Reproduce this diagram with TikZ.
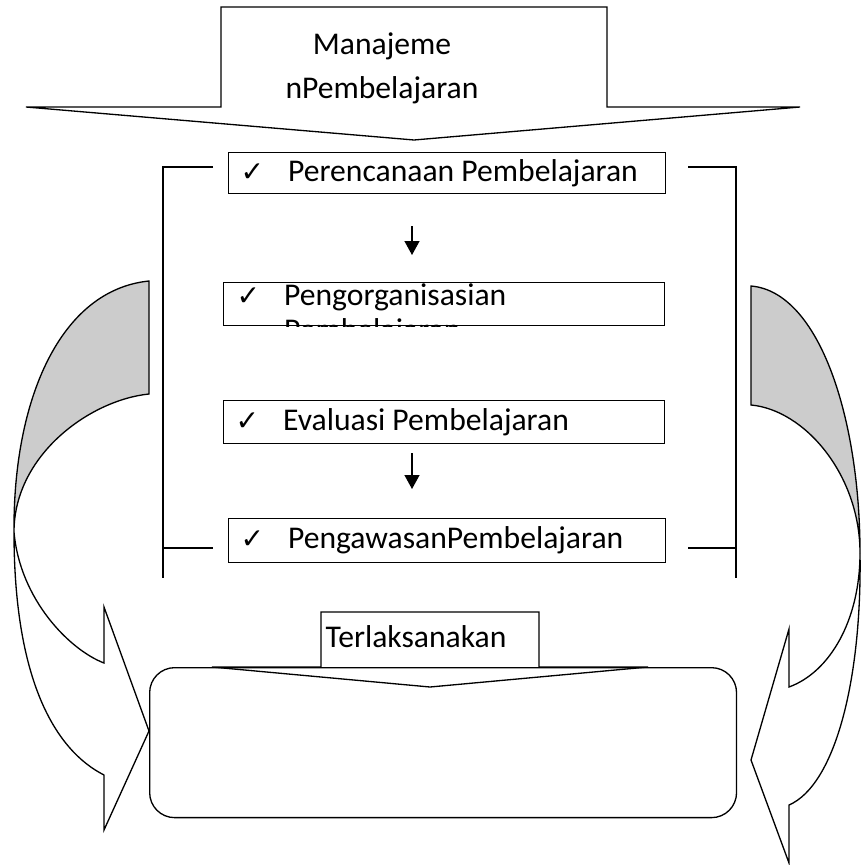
\documentclass[tikz,border=0pt]{standalone}
\usepackage{fontspec}
\setmainfont{Carlito}
\newfontfamily\tickfont{DejaVu Sans}
\usetikzlibrary{arrows.meta}
\newcommand{\tick}{\makebox[27pt][l]{\tickfont\fontsize{16}{16}\selectfont ✓}}

\begin{document}
\begin{tikzpicture}[x=0.02cm, y=-0.02cm, line width=0.75pt,
	stepbox/.style={draw, rectangle, anchor=north west, inner xsep=0.24cm, inner ysep=0pt, align=flush left, font=\fontsize{18}{20}\selectfont},
	steparrow/.style={-{Triangle[width=0.3cm,length=0.28cm]}},
	label/.style={inner sep=0pt, font=\fontsize{18}{20}\selectfont}]
	\useasboundingbox (0,0) rectangle (861,865);
	
	\filldraw[fill=gray!40] (149,281) .. controls (60,290) and (13,400) .. (14,532) .. controls (14,455) and (90,400) .. (149,394) -- cycle;
	\draw (14,532) .. controls (14,680) and (55,750) .. (104,775) -- (104,830) -- (149,731) -- (104,607) -- (104,663) .. controls (70,650) and (20,600) .. (14,532);
	
	\filldraw[fill=gray!40] (751,286) .. controls (820,292) and (860,420) .. (860,553) .. controls (860,475) and (805,410) .. (751,405) -- cycle;
	\draw (860,553) .. controls (862,680) and (835,785) .. (789,805) -- (789,863) -- (751,760) -- (789,629) -- (789,687) .. controls (830,672) and (860,620) .. (860,553);
	
	\draw (221,7) -- (607,7) -- (607,107) -- (800,107) -- (414,140) -- (26,107) -- (221,107) -- cycle;
	\node[label, align=center, font=\fontsize{18}{25}\selectfont] (manajemen) at (382,68) {Manajeme\\nPembelajaran};
	
	\draw (213,167) -- (163,167) -- (163,578);
	\draw (163,548) -- (213,548);
	\draw (688,167) -- (736,167) -- (736,578);
	\draw (736,548) -- (688,548);
	
	\node[stepbox, text width=8.26cm, minimum height=0.82cm] (plan) at (228,152) {\tick Perencanaan Pembelajaran};
	\node[stepbox, text width=8.34cm, minimum height=0.86cm] (org) at (223,282) {};
	\begin{scope}
		\clip (org.north west) rectangle (org.south east);
		\node[label, anchor=north west, align=flush left] (orgtext) at (236,283) {\tick Pengorganisasian\\\hphantom{\tick}Pembelajaran};
	\end{scope}
	\node[stepbox, text width=8.34cm, minimum height=0.86cm] (eval) at (223,400) {\tick Evaluasi Pembelajaran};
	\node[stepbox, text width=8.26cm, minimum height=0.88cm] (awas) at (228,518) {\tick PengawasanPembelajaran};
	
	\coordinate (axis) at (412,0);
	\draw[steparrow, shorten <=0.64cm, shorten >=0.54cm] (plan.south -| axis) -- (org.north -| axis);
	\draw[steparrow, shorten <=0.18cm, shorten >=0.58cm] (eval.south -| axis) -- (awas.north -| axis);
	
	\node[draw, rounded corners=0.5cm, minimum width=11.74cm, minimum height=3cm, anchor=north west] (hasil) at (149,667) {};
	\draw (321,612) -- (539,612) -- (539,667) -- (648,667) -- (430,687) -- (212,667) -- (321,667) -- cycle;
	\node[label, anchor=west] (terlaksana) at (325,637) {Terlaksanakan};
\end{tikzpicture}
\end{document}
